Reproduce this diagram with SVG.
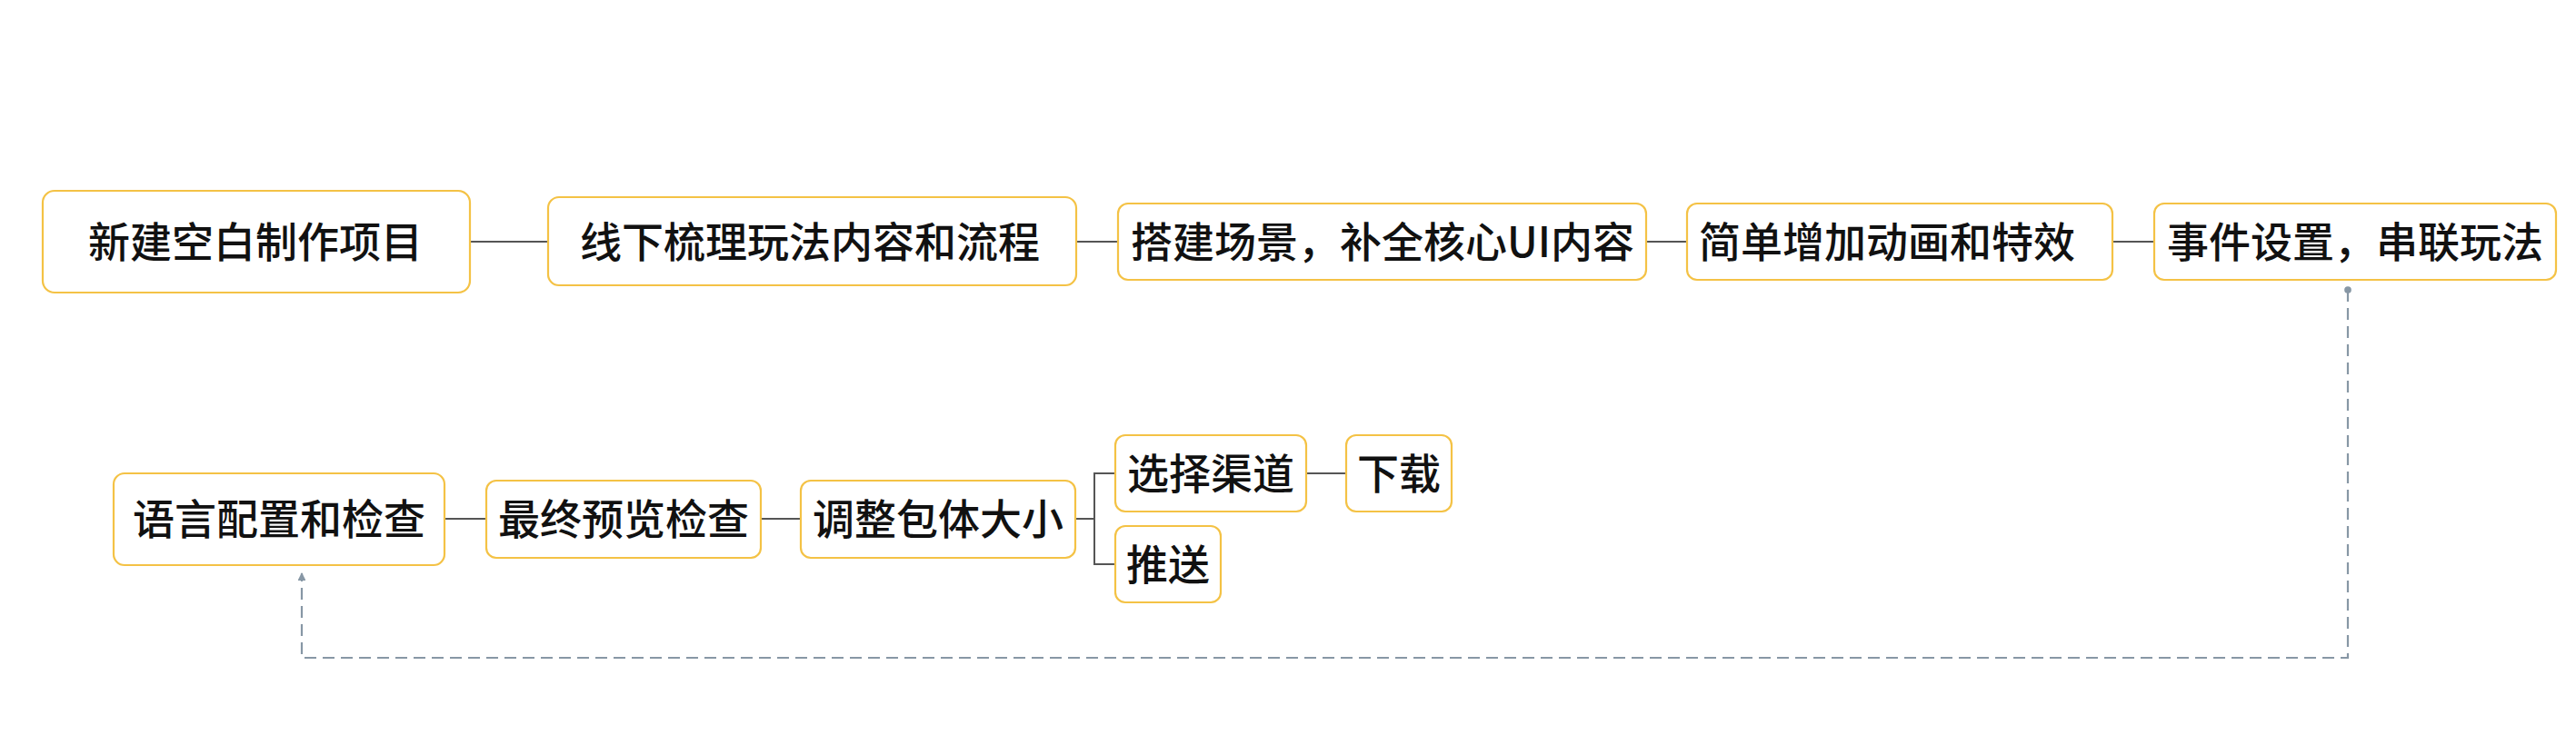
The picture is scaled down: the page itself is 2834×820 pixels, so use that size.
<svg xmlns="http://www.w3.org/2000/svg" width="2834" height="820" viewBox="0 0 2834 820">
<style>
.box{fill:#ffffff;stroke:#F4C245;stroke-width:2.2}
.t{font-family:"Noto Sans CJK SC","Noto Sans",sans-serif;font-size:46px;font-weight:500;fill:#111111;text-anchor:middle}
.ln{fill:none;stroke:#555555;stroke-width:2}
.dash{fill:none;stroke:#8797A5;stroke-width:2.2;stroke-dasharray:13 7}
</style>
<defs>
<marker id="arr" viewBox="0 0 10 10" refX="9" refY="5" markerWidth="4" markerHeight="4" orient="auto" markerUnits="strokeWidth">
<path d="M0,0 L10,5 L0,10 z" fill="#8797A5"/>
</marker>
<marker id="dot" viewBox="0 0 10 10" refX="5" refY="5" markerWidth="3.5" markerHeight="3.5" orient="auto" markerUnits="strokeWidth">
<circle cx="5" cy="5" r="5" fill="#8797A5"/>
</marker>
</defs>
<rect width="2834" height="820" fill="#ffffff"/>
<g id="connectors">
<path class="ln" d="M517 266 H603"/>
<path class="ln" d="M1184 266 H1230"/>
<path class="ln" d="M1811 266 H1856"/>
<path class="ln" d="M2324 266 H2370"/>
<path class="ln" d="M489 571 H535"/>
<path class="ln" d="M837 571 H881"/>
<path class="ln" d="M1183 571 H1204"/>
<path class="ln" d="M1227 521 H1204 V621 H1227"/>
<path class="ln" d="M1437 521 H1481"/>
<path class="dash" d="M2583 319 V724 H332 V631" marker-start="url(#dot)" marker-end="url(#arr)"/>
</g>
<g id="n1"><rect class="box" x="47" y="210" width="470" height="112" rx="13"/><text class="t" x="281" y="283">新建空白制作项目</text></g>
<g id="n2"><rect class="box" x="603" y="217" width="581" height="97" rx="12"/><text class="t" x="891" y="283">线下梳理玩法内容和流程</text></g>
<g id="n3"><rect class="box" x="1230" y="224" width="581" height="84" rx="11"/><text class="t" x="1521" y="283">搭建场景，补全核心UI内容</text></g>
<g id="n4"><rect class="box" x="1856" y="224" width="468" height="84" rx="11"/><text class="t" x="2076" y="283">简单增加动画和特效</text></g>
<g id="n5"><rect class="box" x="2370" y="224" width="442" height="84" rx="11"/><text class="t" x="2591" y="283">事件设置，串联玩法</text></g>
<g id="n6"><rect class="box" x="125" y="521" width="364" height="101" rx="12"/><text class="t" x="307" y="588">语言配置和检查</text></g>
<g id="n7"><rect class="box" x="535" y="529" width="302" height="85" rx="11"/><text class="t" x="686" y="588">最终预览检查</text></g>
<g id="n8"><rect class="box" x="881" y="529" width="302" height="85" rx="11"/><text class="t" x="1032" y="588">调整包体大小</text></g>
<g id="n9"><rect class="box" x="1227" y="479" width="210" height="84" rx="11"/><text class="t" x="1332" y="538">选择渠道</text></g>
<g id="n10"><rect class="box" x="1481" y="479" width="116" height="84" rx="11"/><text class="t" x="1539" y="538">下载</text></g>
<g id="n11"><rect class="box" x="1227" y="579" width="116" height="84" rx="11"/><text class="t" x="1285" y="638">推送</text></g>
</svg>
